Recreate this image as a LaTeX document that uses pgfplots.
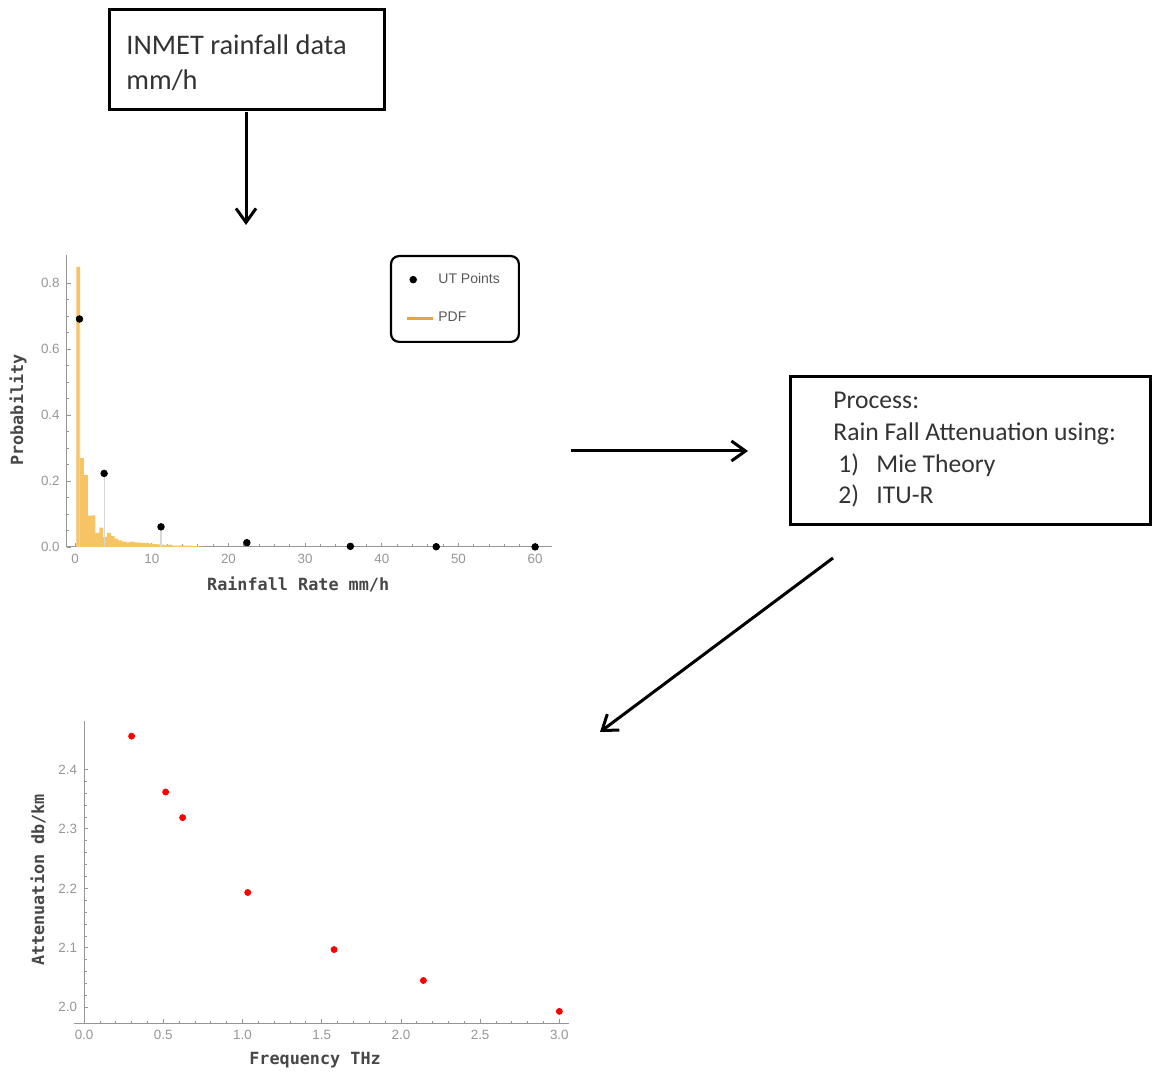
\documentclass[border=0pt]{standalone}
\usepackage{fontspec}
\setmainfont{Liberation Sans}
\newfontfamily\calibri{Carlito}
\newfontfamily\monof{DejaVu Sans Mono}
\usepackage{pgfplots}
\pgfplotsset{compat=1.18}
\usetikzlibrary{arrows.meta}
\definecolor{barorange}{RGB}{246,196,100}
\definecolor{pdforange}{RGB}{242,160,60}
\definecolor{axgray}{RGB}{150,150,150}
\definecolor{stemgray}{RGB}{215,215,215}

\pgfplotsset{mma/.style={
  scale only axis, axis lines=left, axis line style={axgray, line width=0.5pt, -},
  tick style={axgray, line width=0.4pt},
  major tick length=2.2pt, minor tick length=1.3pt,
  tick align=inside,
  ticklabel style={font=\fontsize{6.7}{7}\selectfont, text=axgray},
  label style={font=\monof\bfseries\fontsize{8.4}{10}\selectfont, text=black!72},
  /pgf/number format/assume math mode=true,
  clip=false,
}}
\pgfplotsset{shortlegend/.style={legend image code/.code={\draw[##1] (0pt,0pt) -- (13pt,0pt);}}}
\pgfplotsset{markleg/.style={legend image code/.code={\draw[mark repeat=2, mark phase=2, ##1] plot coordinates {(0pt,0pt) (3pt,0pt) (13pt,0pt)};}}}

\begin{document}
\begin{tikzpicture}
\path[use as bounding box] (0pt,0pt) rectangle (576pt,-537pt);

% ---- boxes and arrows ----
\draw[line width=1.5pt] (54.5pt,-5pt) rectangle (192pt,-55pt);
\node[anchor=base west, inner sep=0pt, font=\calibri\fontsize{14.2}{17}\selectfont, text=black!80] at (63pt,-27.5pt) {INMET rainfall data};
\node[anchor=base west, inner sep=0pt, font=\calibri\fontsize{14.2}{17}\selectfont, text=black!80] at (63pt,-45pt) {mm/h};

\draw[line width=1.5pt] (395pt,-188.5pt) rectangle (575pt,-262.5pt);
\begin{scope}[every node/.style={anchor=base west, inner sep=0pt, font=\calibri\fontsize{12.8}{15}\selectfont, text=black!80}]
\node at (416.5pt,-204.5pt) {Process:};
\node at (416.5pt,-220.5pt) {Rain Fall Attenuation using:};
\node at (419pt,-236.5pt) {1)};
\node at (438pt,-236.5pt) {Mie Theory};
\node at (419pt,-252pt) {2)};
\node at (438pt,-252pt) {ITU-R};
\end{scope}

\draw[line width=1.5pt, -{Straight Barb[length=7pt,width=10pt,line width=1.5pt]}] (123pt,-56pt) -- (123pt,-112.5pt);
\draw[line width=1.5pt, -{Straight Barb[length=7pt,width=10pt,line width=1.5pt]}] (285.5pt,-225.5pt) -- (374pt,-225.5pt);
\draw[line width=1.5pt, -{Straight Barb[length=7pt,width=10pt,line width=1.5pt]}] (416.5pt,-279pt) -- (300pt,-366pt);

% ---- top plot ----
\begin{axis}[mma,
  at={(33.35pt,-273.5pt)}, anchor=south west,
  width=242.65pt, height=146pt,
  xmin=-1.1, xmax=62.2, ymin=0, ymax=0.885,
  xtick={0,10,20,30,40,50,60}, minor x tick num=4,
  ytick={0,0.2,0.4,0.6,0.8}, minor y tick num=3,
  yticklabel style={/pgf/number format/.cd, fixed, fixed zerofill, precision=1},
  xlabel={Rainfall Rate mm/h}, ylabel={Probability},
  xlabel style={at={(axis description cs:0.477,-0.127)}, anchor=center},
  ylabel style={at={(axis description cs:-0.1003,0.469)}, anchor=center},
  legend style={at={(axis description cs:0.666,1)}, anchor=north west,
    draw=black, line width=1.1pt, rounded corners=4pt,
    inner xsep=7.5pt, inner ysep=6.5pt, row sep=9pt,
    font=\fontsize{7}{8}\selectfont, text=black!65,
    /tikz/every even column/.append style={column sep=2pt}},
  legend cell align=left,
]
\addplot[ybar interval, fill=barorange, draw=none, forget plot] coordinates {
(0.15,0.849) (0.65,0.269) (1.15,0.218) (1.65,0.095) (2.15,0.096) (2.65,0.043)
(3.15,0.059) (3.65,0.030) (4.15,0.043) (4.65,0.033) (5.15,0.025) (5.65,0.020)
(6.15,0.016) (6.65,0.014) (7.15,0.016) (7.65,0.014) (8.15,0.013) (8.65,0.012)
(9.15,0.012) (9.65,0.010) (10.15,0.009) (10.65,0.008) (11.15,0.007) (11.65,0.006)
(12.15,0.007) (12.65,0.004) (13.15,0.004) (13.65,0.005) (14.15,0.004) (14.65,0.004)
(15.15,0.003) (15.65,0.003) (16.15,0.001) (16.65,0)
};
\addplot[ycomb, draw=stemgray, line width=0.6pt, forget plot] coordinates {
(0.57,0.691) (3.78,0.223) (11.2,0.061) (22.4,0.013) (35.9,0.002) (47.1,0.0008) (60.0,0.0003)
};
\addplot[only marks, mark=*, mark size=1.65pt, black, line width=0.4pt, markleg] coordinates {
(0.57,0.691) (3.78,0.223) (11.2,0.061) (22.4,0.013) (35.9,0.002) (47.1,0.0008) (60.0,0.0003)
};
\addlegendentry{UT Points}
\addlegendimage{pdforange, line width=1.2pt, shortlegend}
\addlegendentry{PDF}
\end{axis}

% ---- bottom plot ----
\begin{axis}[mma,
  at={(42.05pt,-511.65pt)}, anchor=south west,
  width=242.6pt, height=151.3pt,
  xmin=0, xmax=3.063, ymin=1.973, ymax=2.482,
  xtick={0,0.5,1,1.5,2,2.5,3}, minor x tick num=4,
  ytick={2.0,2.1,2.2,2.3,2.4}, minor y tick num=4,
  xticklabel style={/pgf/number format/.cd, fixed, fixed zerofill, precision=1},
  yticklabel style={/pgf/number format/.cd, fixed, fixed zerofill, precision=1},
  xlabel={Frequency THz}, ylabel={Attenuation db/km},
  xlabel style={at={(axis description cs:0.476,-0.121)}, anchor=center},
  ylabel style={at={(axis description cs:-0.095,0.474)}, anchor=center},
]
\addplot[only marks, mark=*, mark size=1.5pt, red, draw=red] coordinates {
(0.30,2.456) (0.515,2.362) (0.622,2.319) (1.033,2.193) (1.578,2.097) (2.142,2.045) (3.0,1.993)
};
\draw[axgray, line width=0.5pt] (axis cs:-0.064,1.973) -- (axis cs:0,1.973);
\end{axis}
\end{tikzpicture}
\end{document}
